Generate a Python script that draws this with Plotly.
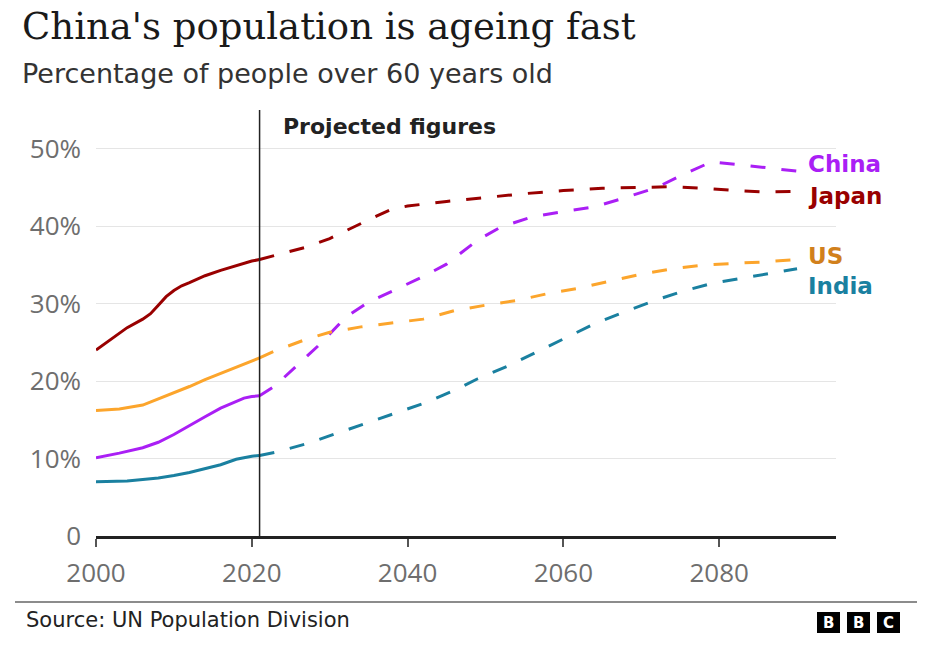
import plotly.graph_objects as go

# ---------------- data (percentage of people over 60) ----------------
japan_hist_years = [2000, 2002, 2004, 2006, 2007, 2008, 2009, 2010, 2011, 2012, 2014, 2016, 2018, 2020, 2021]
japan_hist = [24.0, 25.5, 26.9, 28.0, 28.7, 29.8, 30.9, 31.7, 32.3, 32.7, 33.6, 34.3, 34.9, 35.5, 35.7]
japan_proj_years = [2021, 2023, 2025, 2027, 2030, 2032, 2034, 2036, 2038, 2040, 2045, 2050, 2055, 2060, 2065, 2070, 2074, 2078, 2082, 2086, 2090]
japan_proj = [35.7, 36.2, 36.8, 37.3, 38.4, 39.4, 40.3, 41.3, 42.2, 42.6, 43.2, 43.7, 44.2, 44.6, 44.9, 45.0, 45.1, 44.9, 44.6, 44.4, 44.5]

china_hist_years = [2000, 2003, 2006, 2008, 2010, 2012, 2014, 2016, 2018, 2019, 2020, 2021]
china_hist = [10.1, 10.7, 11.4, 12.1, 13.1, 14.3, 15.4, 16.5, 17.4, 17.8, 18.0, 18.1]
china_proj_years = [2021, 2023, 2026, 2029, 2032, 2035, 2038, 2042, 2045, 2047, 2049, 2052, 2056, 2060, 2064, 2068, 2072, 2075, 2079, 2083, 2087, 2090]
china_proj = [18.1, 19.4, 22.2, 25.0, 28.2, 30.2, 31.6, 33.5, 35.1, 36.6, 38.2, 39.9, 41.2, 41.9, 42.5, 43.7, 45.0, 46.5, 48.3, 47.9, 47.4, 47.1]

us_hist_years = [2000, 2003, 2006, 2008, 2010, 2012, 2014, 2016, 2018, 2020, 2021]
us_hist = [16.2, 16.4, 16.9, 17.7, 18.4, 19.3, 20.2, 21.0, 21.9, 22.6, 23.0]
us_proj_years = [2021, 2023, 2027, 2030, 2034, 2038, 2042, 2046, 2050, 2054, 2058, 2062, 2066, 2070, 2074, 2078, 2082, 2086, 2090]
us_proj = [23.0, 23.9, 25.4, 26.3, 27.0, 27.5, 28.0, 29.1, 29.8, 30.4, 31.3, 32.0, 32.9, 33.8, 34.5, 35.0, 35.2, 35.4, 35.7]

india_hist_years = [2000, 2004, 2008, 2010, 2012, 2014, 2016, 2018, 2020, 2021]
india_hist = [7.0, 7.1, 7.5, 7.8, 8.2, 8.7, 9.2, 9.9, 10.3, 10.4]
india_proj_years = [2021, 2023, 2027, 2031, 2034, 2038, 2042, 2046, 2049, 2053, 2057, 2060, 2064, 2068, 2072, 2075, 2079, 2083, 2087, 2090]
india_proj = [10.4, 10.8, 11.9, 13.3, 14.4, 15.8, 17.1, 18.8, 20.3, 22.0, 24.0, 25.5, 27.4, 29.0, 30.5, 31.5, 32.6, 33.3, 34.0, 34.5]

x_ticks = [2000, 2020, 2040, 2060, 2080]
y_ticks = [0, 10, 20, 30, 40, 50]
y_tick_labels = ["0", "10%", "20%", "30%", "40%", "50%"]
projection_start = 2021

series = [
    ("China", china_hist_years, china_hist, china_proj_years, china_proj, "#aa1ff5", "#aa1ff5", 48.0),
    ("Japan", japan_hist_years, japan_hist, japan_proj_years, japan_proj, "#990000", "#990000", 43.9),
    ("US", us_hist_years, us_hist, us_proj_years, us_proj, "#fca52c", "#d1801c", 36.1),
    ("India", india_hist_years, india_hist, india_proj_years, india_proj, "#1a80a0", "#1a80a0", 32.3),
]

SANS = "DejaVu Sans"

# ---------------- layout geometry ----------------
W, H = 927, 646
L, R = 96, 91
T, B = 110, 110
PW, PH = W - L - R, H - T - B


def px(x):
    return (x - L) / PW


def py(y):
    return (H - B - y) / PH


fig = go.Figure()
for name, hy, hv, pyrs, pv, col, lab_col, lab_y in series:
    fig.add_trace(go.Scatter(x=hy, y=hv, mode="lines", line=dict(color=col, width=3),
                             hoverinfo="skip", showlegend=False))
    fig.add_trace(go.Scatter(x=pyrs, y=pv, mode="lines",
                             line=dict(color=col, width=3, dash="15px,16px"),
                             hoverinfo="skip", showlegend=False))
    fig.add_annotation(x=2091.1, y=lab_y, xref="x", yref="y", text="<b>%s</b>" % name,
                       showarrow=False, xanchor="left", yanchor="middle",
                       font=dict(family=SANS, size=23, color=lab_col))

# projection marker
fig.add_shape(type="line", xref="x", yref="y", x0=projection_start, x1=projection_start,
              y0=0, y1=55, line=dict(color="#222222", width=1.5), layer="above")
fig.add_annotation(x=projection_start, y=52.9, xref="x", yref="y", xshift=21,
                   text="<b>Projected figures</b>", showarrow=False,
                   xanchor="left", yanchor="middle",
                   font=dict(family=SANS, size=22, color="#222222"))

# title / subtitle
fig.add_annotation(x=px(20), y=py(27), xref="paper", yref="paper",
                   text="China's population is ageing fast", showarrow=False,
                   xanchor="left", yanchor="middle",
                   font=dict(family="DejaVu Serif", size=37, color="#1a1a1a"))
fig.add_annotation(x=px(20), y=py(74), xref="paper", yref="paper",
                   text="Percentage of people over 60 years old", showarrow=False,
                   xanchor="left", yanchor="middle",
                   font=dict(family=SANS, size=27, color="#333333"))

# footer
fig.add_shape(type="line", xref="paper", yref="paper", x0=px(15), x1=px(917),
              y0=py(602), y1=py(602), line=dict(color="#666666", width=1.5))
fig.add_annotation(x=px(24), y=py(620), xref="paper", yref="paper",
                   text="Source: UN Population Division", showarrow=False,
                   xanchor="left", yanchor="middle",
                   font=dict(family=SANS, size=21, color="#222222"))
for i, letter in enumerate(["B", "B", "C"]):
    x0 = 817 + i * 30
    fig.add_shape(type="rect", xref="paper", yref="paper", x0=px(x0), x1=px(x0 + 23),
                  y0=py(633), y1=py(612), fillcolor="#000000", line=dict(width=0))
    fig.add_annotation(x=px(x0 + 11.5), y=py(622.5), xref="paper", yref="paper",
                       text="<b>%s</b>" % letter, showarrow=False,
                       xanchor="center", yanchor="middle",
                       font=dict(family=SANS, size=15, color="#ffffff"))

fig.update_layout(
    width=W, height=H, autosize=False,
    margin=dict(l=L, r=R, t=T, b=B, pad=0),
    paper_bgcolor="white", plot_bgcolor="white",
    showlegend=False,
    xaxis=dict(range=[2000, 2095], tickvals=x_ticks, ticks="outside", ticklen=8,
               tickwidth=1.5, tickcolor="#555555", showline=True, linecolor="#222222",
               linewidth=2.5, showgrid=False, zeroline=False,
               tickfont=dict(family="Open Sans", size=26, color="#6e6e6e"),
               ticklabelstandoff=4, fixedrange=True),
    yaxis=dict(range=[0, 55], tickvals=y_ticks, ticktext=y_tick_labels, ticks="",
               showgrid=True, gridcolor="#e5e5e5", gridwidth=1.2, zeroline=False,
               showline=False,
               tickfont=dict(family="Open Sans", size=26, color="#6e6e6e"),
               ticklabelstandoff=14, fixedrange=True),
)

fig.write_html("out.html", config={"displayModeBar": False},
               post_script="document.body.style.margin='0';document.body.style.overflow='hidden';")
